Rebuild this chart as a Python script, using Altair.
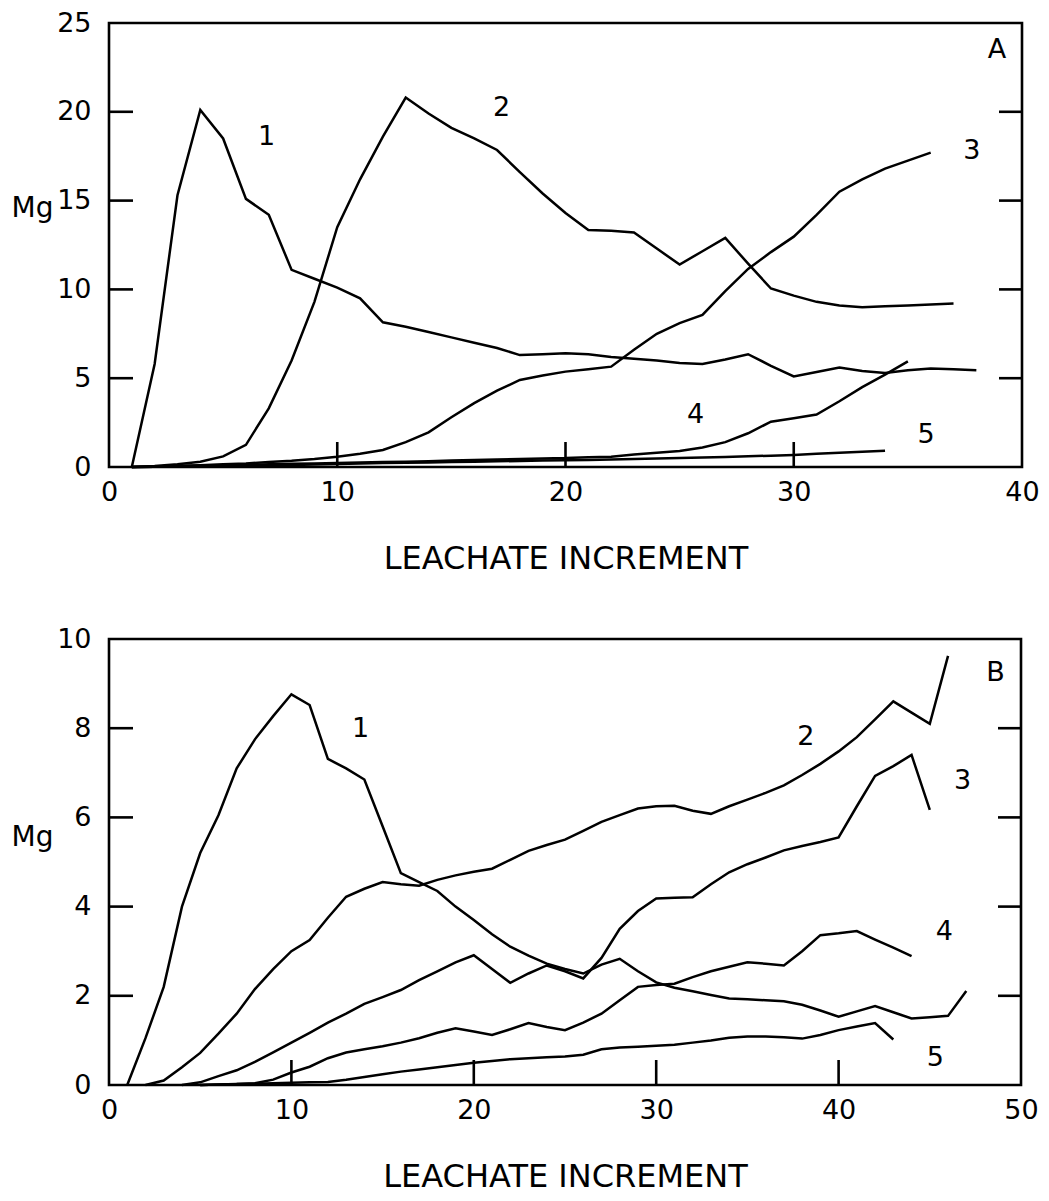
import altair as alt
import pandas as pd

FONT = "DejaVu Sans"
INK = "black"

# ---------------- Panel A: Mg released per leachate increment (0-40, 0-25) ----------------
a_start = [1, 1, 1, 1, 1]
a_curve1 = [0, 5.8, 15.3, 20.1, 18.5, 15.1, 14.2, 11.1, 10.6, 10.1,
            9.5, 8.15, 7.9, 7.6, 7.3, 7.0, 6.7, 6.3, 6.35, 6.4,
            6.35, 6.2, 6.1, 6.0, 5.85, 5.8, 6.05, 6.35, 5.7, 5.1,
            5.35, 5.6, 5.4, 5.3, 5.45, 5.55, 5.5, 5.45]
a_curve2 = [0, 0.05, 0.15, 0.3, 0.6, 1.25, 3.3, 6.0, 9.3, 13.5,
            16.2, 18.6, 20.8, 19.9, 19.1, 18.5, 17.85, 16.6, 15.4, 14.3,
            13.35, 13.3, 13.2, 12.3, 11.4, 12.15, 12.9, 11.45, 10.05, 9.65,
            9.3, 9.1, 9.0, 9.05, 9.1, 9.15, 9.2]
a_curve3 = [0, 0.02, 0.05, 0.1, 0.15, 0.2, 0.28, 0.35, 0.45, 0.58,
            0.75, 0.96, 1.4, 1.95, 2.8, 3.6, 4.3, 4.9, 5.15, 5.37,
            5.5, 5.65, 6.6, 7.5, 8.1, 8.56, 9.9, 11.15, 12.1, 12.97,
            14.2, 15.5, 16.2, 16.8, 17.25, 17.7]
a_curve4 = [0, 0.02, 0.05, 0.08, 0.1, 0.12, 0.15, 0.18, 0.2, 0.22,
            0.25, 0.28, 0.3, 0.33, 0.36, 0.4, 0.42, 0.45, 0.48, 0.5,
            0.55, 0.58, 0.7, 0.8, 0.9, 1.1, 1.4, 1.9, 2.55, 2.75,
            2.95, 3.7, 4.5, 5.2, 5.95]
a_curve5 = [0, 0.01, 0.02, 0.04, 0.05, 0.07, 0.09, 0.11, 0.14, 0.17,
            0.2, 0.22, 0.24, 0.26, 0.28, 0.3, 0.32, 0.34, 0.36, 0.38,
            0.4, 0.42, 0.45, 0.48, 0.5, 0.53, 0.56, 0.6, 0.64, 0.68,
            0.74, 0.8, 0.86, 0.92]
a_tags = ["1", "2", "3", "4", "5", "A"]
a_tag_x = [6.9, 17.2, 37.8, 25.7, 35.8, 38.9]
a_tag_y = [18.6, 20.2, 17.8, 2.93, 1.8, 23.5]
a_xlabels = [0, 10, 20, 30, 40]
a_ylabels = [0, 5, 10, 15, 20, 25]
a_xticks = [10, 20, 30]
a_yticks = [5, 10, 15, 20]

# ---------------- Panel B: Mg released per leachate increment (0-50, 0-10) ----------------
b_start = [1, 2, 4, 5, 5]
b_curve1 = [0, 1.05, 2.2, 4.0, 5.2, 6.05, 7.1, 7.75, 8.27, 8.76,
            8.52, 7.31, 7.1, 6.85, 5.8, 4.75, 4.55, 4.35, 4.0, 3.7,
            3.38, 3.1, 2.9, 2.72, 2.6, 2.5, 2.7, 2.83, 2.55, 2.3,
            2.18, 2.1, 2.02, 1.94, 1.92, 1.9, 1.88, 1.8, 1.67, 1.53,
            1.65, 1.77, 1.63, 1.49, 1.52, 1.55, 2.11]
b_curve2 = [0, 0.1, 0.4, 0.72, 1.15, 1.6, 2.15, 2.6, 3.0, 3.25,
            3.75, 4.22, 4.4, 4.55, 4.5, 4.47, 4.6, 4.7, 4.78, 4.85,
            5.05, 5.25, 5.38, 5.5, 5.7, 5.9, 6.05, 6.2, 6.25, 6.26,
            6.15, 6.08, 6.25, 6.4, 6.55, 6.72, 6.95, 7.2, 7.48, 7.8,
            8.2, 8.6, 8.35, 8.1, 9.62]
b_curve3 = [0, 0.06, 0.2, 0.33, 0.52, 0.73, 0.95, 1.17, 1.4, 1.6,
            1.82, 1.97, 2.13, 2.35, 2.55, 2.75, 2.91, 2.6, 2.29, 2.5,
            2.68, 2.55, 2.39, 2.85, 3.5, 3.9, 4.18, 4.2, 4.21, 4.5,
            4.77, 4.95, 5.1, 5.26, 5.36, 5.45, 5.55, 6.25, 6.93, 7.15,
            7.4, 6.17]
b_curve4 = [0, 0.01, 0.02, 0.04, 0.12, 0.28, 0.41, 0.6, 0.73, 0.8,
            0.87, 0.95, 1.05, 1.17, 1.27, 1.2, 1.12, 1.25, 1.39, 1.3,
            1.23, 1.4, 1.6, 1.9, 2.2, 2.24, 2.27, 2.42, 2.55, 2.65,
            2.75, 2.72, 2.68, 3.0, 3.36, 3.4, 3.45, 3.26, 3.08, 2.89]
b_curve5 = [0, 0.01, 0.02, 0.03, 0.04, 0.05, 0.06, 0.07, 0.12, 0.18,
            0.24, 0.3, 0.35, 0.4, 0.45, 0.5, 0.54, 0.58, 0.6, 0.62,
            0.64, 0.68, 0.8, 0.84, 0.86, 0.88, 0.9, 0.95, 1.0, 1.06,
            1.09, 1.09, 1.07, 1.04, 1.12, 1.23, 1.31, 1.39, 1.02]
b_tags = ["1", "2", "3", "4", "5", "B"]
b_tag_x = [13.8, 38.2, 46.8, 45.8, 45.3, 48.6]
b_tag_y = [7.98, 7.8, 6.82, 3.43, 0.6, 9.24]
b_xlabels = [0, 10, 20, 30, 40, 50]
b_ylabels = [0, 2, 4, 6, 8, 10]
b_xticks = [10, 20, 30, 40]
b_yticks = [2, 4, 6, 8]

CURVE_NAMES = ["1", "2", "3", "4", "5"]


def curves_frame(series, starts):
    rows = []
    for name, start, values in zip(CURVE_NAMES, starts, series):
        for i, v in enumerate(values):
            rows.append({"curve": name, "inc": start + i, "mg": v})
    return pd.DataFrame(rows)


def panel(series, starts, tags, tag_x, tag_y, xmax, ymax,
          xlabels, ylabels, xticks, yticks, W, H, mg_title_y):
    xs = alt.Scale(domain=[0, xmax], nice=False, zero=False)
    ys = alt.Scale(domain=[0, ymax], nice=False, zero=False)

    x_axis = alt.Axis(
        values=xlabels, ticks=False, domain=False, grid=False,
        labelFont=FONT, labelFontSize=27, labelColor=INK, labelPadding=12,
        labelFlush=False,
        title="LEACHATE INCREMENT", titleFont=FONT, titleFontSize=32,
        titleFontWeight="normal", titleColor=INK,
        titleX=W / 2, titleY=91, titleAlign="center", titleBaseline="middle",
    )
    y_axis = alt.Axis(
        values=ylabels, ticks=False, domain=False, grid=False,
        labelFont=FONT, labelFontSize=27, labelColor=INK, labelPadding=18,
        labelFlush=False,
        title="Mg", titleFont=FONT, titleFontSize=28, titleFontWeight="normal",
        titleColor=INK, titleAngle=0, titleX=-77, titleY=mg_title_y,
        titleAlign="center", titleBaseline="middle",
    )

    def xenc(field):
        return alt.X(field, scale=xs, axis=x_axis)

    def yenc(field):
        return alt.Y(field, scale=ys, axis=y_axis)

    lines = alt.Chart(curves_frame(series, starts)).mark_line(
        color=INK, strokeWidth=2.5, strokeJoin="miter"
    ).encode(
        x=xenc("inc:Q"),
        y=yenc("mg:Q"),
        detail="curve:N",
        order="inc:Q",
    )

    # inward tick marks on the left, right and bottom frame edges
    ydf = pd.DataFrame({"v": yticks})
    xdf = pd.DataFrame({"v": xticks})
    left = alt.Chart(ydf).mark_rule(color=INK, strokeWidth=2.6).encode(
        y=yenc("v:Q"), x=alt.value(0), x2=alt.value(24))
    right = alt.Chart(ydf).mark_rule(color=INK, strokeWidth=2.6).encode(
        y=yenc("v:Q"), x=alt.value(W - 23), x2=alt.value(W))
    bottom = alt.Chart(xdf).mark_rule(color=INK, strokeWidth=2.6).encode(
        x=xenc("v:Q"), y=alt.value(H), y2=alt.value(H - 25))

    labels = alt.Chart(pd.DataFrame({"t": tags, "x": tag_x, "y": tag_y})).mark_text(
        font=FONT, fontSize=27, color=INK
    ).encode(
        x=xenc("x:Q"),
        y=yenc("y:Q"),
        text="t:N",
    )

    return alt.layer(lines, left, right, bottom, labels).properties(width=W, height=H)


panel_a = panel([a_curve1, a_curve2, a_curve3, a_curve4, a_curve5], a_start,
                a_tags, a_tag_x, a_tag_y, 40, 25,
                a_xlabels, a_ylabels, a_xticks, a_yticks, 913, 444, 185)
panel_b = panel([b_curve1, b_curve2, b_curve3, b_curve4, b_curve5], b_start,
                b_tags, b_tag_x, b_tag_y, 50, 10,
                b_xlabels, b_ylabels, b_xticks, b_yticks, 912, 446, 198)

chart = alt.vconcat(panel_a, panel_b, spacing=47).properties(
    padding={"left": 9, "top": 7, "right": 0, "bottom": 0},
    background="white",
).configure_view(
    stroke=INK, strokeWidth=2.6
)

chart.save("out.html", embed_options={"renderer": "svg", "actions": False})
